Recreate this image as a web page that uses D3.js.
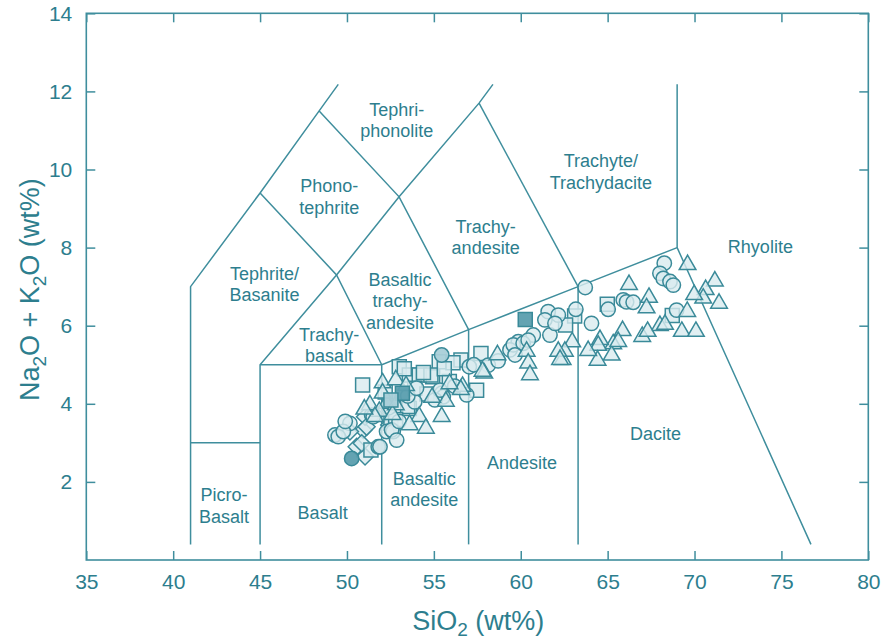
<!DOCTYPE html>
<html>
<head>
<meta charset="utf-8">
<script src="https://cdn.jsdelivr.net/npm/d3@7"></script>
<style>
  html, body { margin: 0; padding: 0; background: #ffffff; }
  svg { display: block; font-family: "Liberation Sans", Arial, sans-serif; }
</style>
</head>
<body>
<svg id="tas" width="882" height="642"></svg>
<script>
// Total alkali vs. silica (TAS) classification diagram

// Axis ticks
const sio2Ticks = [35, 40, 45, 50, 55, 60, 65, 70, 75, 80];
const alkaliTicks = [2, 4, 6, 8, 10, 12, 14];

// Sample analyses: [SiO2, Na2O+K2O, shade] (shade 0 = light, 1 = medium, 2 = dark)
const circleSamples = [
  [68.26, 7.60, 0], [68.01, 7.34, 0], [68.20, 7.21, 0], [68.59, 7.13, 0], [68.78, 7.04, 0],
  [63.71, 6.98, 0], [65.90, 6.66, 0], [66.09, 6.61, 0], [66.47, 6.60, 0], [65.03, 6.42, 0],
  [63.17, 6.42, 0], [64.07, 6.06, 0], [68.97, 6.40, 0], [61.58, 6.36, 0], [62.16, 6.27, 0],
  [61.39, 6.15, 0], [61.68, 5.76, 0], [61.97, 6.06, 0], [60.72, 5.76, 0], [59.86, 5.59, 0],
  [59.38, 5.38, 0], [59.57, 5.51, 0], [60.14, 5.55, 0], [60.43, 5.63, 0], [59.67, 5.25, 0],
  [58.13, 4.99, 0], [57.04, 4.95, 0], [55.45, 5.25, 1], [55.45, 4.27, 0], [55.54, 4.18, 0],
  [55.06, 4.10, 0], [56.89, 4.23, 0], [55.35, 4.35, 0], [51.42, 3.71, 0], [50.17, 3.50, 0],
  [49.31, 3.20, 0], [49.50, 3.16, 0], [49.79, 3.29, 0], [52.28, 3.29, 0], [52.66, 3.29, 0],
  [51.80, 2.90, 1], [50.27, 2.60, 2], [51.51, 3.67, 0], [52.57, 3.33, 0], [51.90, 2.90, 0],
  [52.86, 3.07, 0], [58.70, 5.10, 0], [56.20, 4.45, 0], [53.90, 4.05, 0], [49.90, 3.55, 0],
  [53.50, 4.20, 0], [54.00, 4.40, 0], [52.40, 3.90, 0], [53.00, 3.55, 0], [57.30, 5.00, 0]
];

const squareSamples = [
  [64.98, 6.55, 0], [63.10, 6.25, 0], [62.58, 6.02, 0], [68.72, 6.26, 0], [57.71, 5.29, 0],
  [56.56, 5.12, 0], [55.31, 5.08, 0], [54.93, 4.69, 0], [55.89, 4.57, 0], [53.01, 4.95, 0],
  [50.90, 4.48, 0], [53.59, 4.74, 0], [54.16, 4.74, 0], [54.83, 4.74, 0], [57.46, 4.35, 0],
  [53.59, 3.88, 0], [51.38, 2.82, 0], [53.49, 3.93, 0], [52.53, 3.50, 0], [56.10, 5.05, 0],
  [53.30, 4.90, 0], [54.40, 4.80, 0], [52.20, 4.30, 0], [53.90, 4.40, 0], [54.60, 4.25, 0],
  [52.80, 3.60, 0], [55.60, 4.90, 0],
  [60.26, 6.16, 2], [53.19, 4.27, 2], [52.53, 4.10, 1]
];

const triangleSamples = [
  [69.60, 7.60, 0], [66.23, 7.09, 0], [67.38, 6.76, 0], [71.17, 7.18, 0], [70.64, 6.96, 0],
  [70.50, 6.74, 0], [69.98, 6.83, 0], [71.41, 6.61, 0], [69.58, 6.40, 0], [67.24, 6.49, 0],
  [68.01, 6.04, 0], [68.30, 6.07, 0], [69.27, 5.89, 0], [70.08, 5.89, 0], [66.99, 5.76, 0],
  [67.30, 5.89, 0], [65.86, 5.91, 0], [65.32, 5.57, 0], [64.56, 5.68, 0], [64.46, 5.53, 0],
  [65.23, 5.28, 0], [64.42, 5.15, 0], [63.88, 5.40, 0], [62.96, 5.62, 0], [62.54, 5.38, 0],
  [62.41, 5.17, 0], [65.61, 5.63, 0], [60.34, 5.38, 0], [60.43, 5.08, 0], [60.53, 4.78, 0],
  [62.16, 5.38, 0], [62.26, 5.17, 0], [57.90, 4.82, 0], [56.65, 4.48, 0], [52.05, 4.57, 0],
  [52.81, 4.65, 0], [51.32, 4.01, 0], [52.28, 4.05, 0], [52.81, 4.01, 0], [54.16, 3.71, 0],
  [54.54, 3.41, 0], [55.69, 4.10, 0], [56.55, 4.40, 0], [57.80, 4.87, 0], [58.66, 5.29, 0],
  [52.05, 4.31, 0], [51.86, 3.84, 0], [52.62, 3.76, 0], [51.61, 3.71, 0], [55.45, 3.71, 0],
  [53.40, 4.50, 0], [54.90, 4.20, 0], [53.60, 3.50, 0], [51.00, 3.90, 0], [55.90, 4.55, 0]
];

const diamondSamples = [
  [50.94, 3.33, 0], [51.04, 2.65, 0], [50.56, 2.90, 0], [52.43, 3.46, 0], [52.24, 3.88, 0],
  [50.17, 3.29, 0], [51.04, 3.67, 0], [51.13, 3.41, 0], [50.85, 2.99, 0]
];

// Field boundaries (Le Bas et al., 1986), as polylines in data units
const fieldBoundaries = [
  [[41, 0.4], [41, 7], [45, 9.4], [48.4, 11.5], [49.5, 12.18]],
  [[41, 3], [45, 3]],
  [[45, 0.4], [45, 5], [49.4, 7.3], [53, 9.3], [57.6, 11.7], [58.4, 12.18]],
  [[45, 5], [52, 5]],
  [[45, 9.4], [49.4, 7.3], [52, 5]],
  [[48.4, 11.5], [53, 9.3], [57, 5.9]],
  [[52, 0.4], [52, 5], [57, 5.9], [63.3, 7], [69, 8]],
  [[57, 0.4], [57, 5.9]],
  [[63.3, 0.4], [63.3, 7]],
  [[57.6, 11.7], [63.3, 7]],
  [[69, 12.18], [69, 8], [76.7, 0.4]]
];

// Field names, anchored at the middle of each text block (data units)
const fieldNames = [
  { text: ["Tephri-", "phonolite"], at: [52.86, 11.26] },
  { text: ["Phono-", "tephrite"], at: [48.98, 9.30] },
  { text: ["Trachyte/", "Trachydacite"], at: [64.61, 9.93] },
  { text: ["Trachy-", "andesite"], at: [57.98, 8.26] },
  { text: ["Rhyolite"], at: [73.79, 8.02] },
  { text: ["Tephrite/", "Basanite"], at: [45.26, 7.06] },
  { text: ["Basaltic", "trachy-", "andesite"], at: [53.05, 6.62] },
  { text: ["Trachy-", "basalt"], at: [48.97, 5.49] },
  { text: ["Dacite"], at: [67.75, 3.23] },
  { text: ["Andesite"], at: [60.07, 2.48] },
  { text: ["Basaltic", "andesite"], at: [54.45, 1.81] },
  { text: ["Picro-", "Basalt"], at: [42.92, 1.38] },
  { text: ["Basalt"], at: [48.60, 1.21] }
];

const TEXT = "#2d7e8e";
const LINE = "#3f8e9d";
const STROKE = "#3a8a99";
const SHADES = ["#d9ebef", "#a9cfd8", "#5b9eae"];

const svg = d3.select("#tas");
const L = 86.3, R = 868.3, T = 13.3, B = 560;

const x = d3.scaleLinear().domain([35, 80]).range([L, R]);
const y = d3.scaleLinear().domain([0, 14]).range([B, T]);

// Axes with inward ticks
const tickLen = 9;
function styleAxis(g) {
  g.select(".domain").remove();
  g.selectAll(".tick line").attr("stroke", LINE).attr("stroke-width", 1.5);
  g.selectAll(".tick text").attr("fill", TEXT).style("font-size", "21px")
    .style("font-family", "'Liberation Sans', Arial, sans-serif");
}

svg.append("g").attr("transform", `translate(0,${B})`)
  .call(d3.axisBottom(x).tickValues(sio2Ticks).tickSize(-tickLen).tickPadding(14).tickFormat(d3.format("d")))
  .call(styleAxis);
svg.append("g").attr("transform", `translate(0,${T})`)
  .call(d3.axisTop(x).tickValues(sio2Ticks).tickSize(-tickLen).tickFormat(""))
  .call(styleAxis);
svg.append("g").attr("transform", `translate(${L},0)`)
  .call(d3.axisLeft(y).tickValues(alkaliTicks).tickSize(-tickLen).tickPadding(14).tickFormat(d3.format("d")))
  .call(styleAxis);
svg.append("g").attr("transform", `translate(${R},0)`)
  .call(d3.axisRight(y).tickValues(alkaliTicks).tickSize(-tickLen).tickFormat(""))
  .call(styleAxis);

// Frame
svg.append("rect")
  .attr("x", L).attr("y", T).attr("width", R - L).attr("height", B - T)
  .attr("fill", "none").attr("stroke", LINE).attr("stroke-width", 1.6);

// Field boundaries
const line = d3.line().x(d => x(d[0])).y(d => y(d[1]));
svg.append("g").selectAll("path").data(fieldBoundaries).join("path")
  .attr("d", line).attr("fill", "none").attr("stroke", LINE).attr("stroke-width", 1.5);

// Field names
const lineH = 21.5;
const names = svg.append("g").attr("fill", TEXT).style("font-size", "18px").attr("text-anchor", "middle");
fieldNames.forEach(f => {
  const cx = x(f.at[0]), cy = y(f.at[1]);
  const t = names.append("text");
  f.text.forEach((s, i) => {
    t.append("tspan").attr("x", cx)
      .attr("y", cy + (i - (f.text.length - 1) / 2) * lineH)
      .attr("dominant-baseline", "central").text(s);
  });
});

// Sample symbols
const marks = svg.append("g").attr("stroke", STROKE).attr("stroke-width", 1.5);
const symbolPath = {
  circle: d3.symbol().type(d3.symbolCircle).size(Math.PI * 7.2 * 7.2)(),
  square: d3.symbol().type(d3.symbolSquare).size(14 * 14)(),
  triangle: d3.symbol().type(d3.symbolTriangle).size(120)(),
  diamond: "M0,-8.5L8.5,0L0,8.5L-8.5,0Z"
};
function drawSet(data, kind, dy) {
  marks.append("g").selectAll("path").data(data).join("path")
    .attr("d", symbolPath[kind])
    .attr("transform", d => `translate(${x(d[0])},${y(d[1]) + (dy || 0)})`)
    .attr("fill", d => SHADES[d[2]])
    .attr("fill-opacity", d => d[2] === 0 ? 0.8 : 0.95);
}
drawSet(diamondSamples, "diamond");
drawSet(squareSamples.filter(d => d[2] === 0), "square");
drawSet(circleSamples, "circle");
drawSet(triangleSamples, "triangle", 1.5);
drawSet(squareSamples.filter(d => d[2] > 0), "square");

// Axis titles with subscripts
const xt = svg.append("text").attr("x", (L + R) / 2 + 1).attr("y", 630)
  .attr("text-anchor", "middle").attr("fill", TEXT).style("font-size", "27px");
xt.append("tspan").text("SiO");
xt.append("tspan").attr("dy", 6).style("font-size", "19px").text("2");
xt.append("tspan").attr("dy", -6).text(" (wt%)");

const yt = svg.append("text")
  .attr("transform", `translate(39,${(T + B) / 2 + 3}) rotate(-90)`)
  .attr("text-anchor", "middle").attr("fill", TEXT).style("font-size", "27px");
yt.append("tspan").text("Na");
yt.append("tspan").attr("dy", 7).style("font-size", "19px").text("2");
yt.append("tspan").attr("dy", -7).text("O + K");
yt.append("tspan").attr("dy", 7).style("font-size", "19px").text("2");
yt.append("tspan").attr("dy", -7).text("O (wt%)");
</script>
</body>
</html>
